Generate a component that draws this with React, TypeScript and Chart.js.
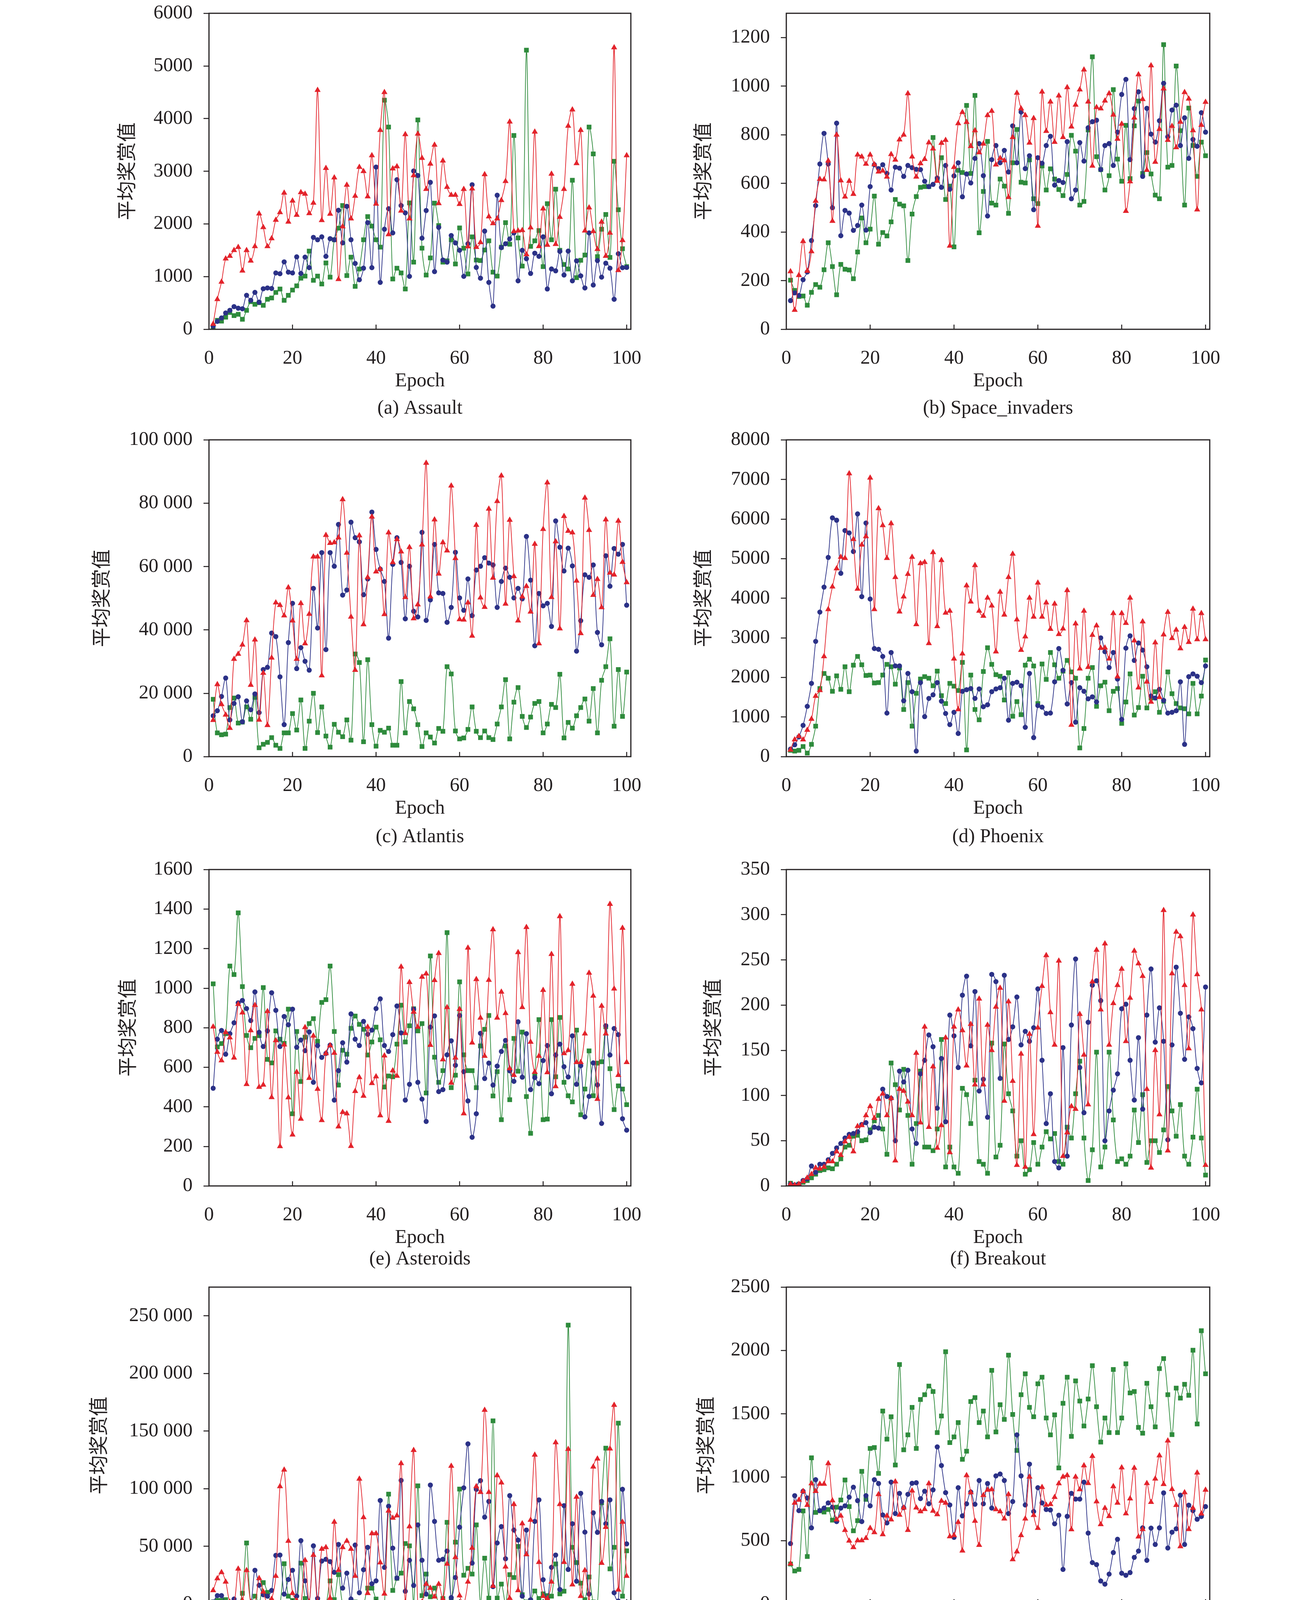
import { useEffect, useRef } from 'react'
import { Chart, registerables } from 'chart.js'

Chart.register(...registerables)

// epochs 1..100 on the x axis
const epochs = Array.from({ length: 100 }, (_, i) => i + 1)
const seriesNames = ['NATURE-DQN', 'EBU', 'GCO-EBU']
const yLabel = '平均奖赏值'
const xLabel = 'Epoch'
const xTicks = [0, 20, 40, 60, 80, 100]

// (a) Assault
const assaultTicks = [0, 1000, 2000, 3000, 4000, 5000, 6000]
const assaultDqn = [
  40, 170, 155, 230, 320, 260, 285, 190, 360, 525,
  475, 505, 455, 570, 595, 700, 765, 550, 645, 745,
  825, 970, 1010, 1485, 930, 1010, 860, 1260, 990, 1700,
  1920, 2350, 1020, 1370, 815, 1145, 1700, 2140, 1960, 1700,
  1560, 4350, 3840, 955, 1160, 1070, 765, 2400, 1275, 3975,
  1540, 1030, 1355, 2395, 1970, 1275, 1300, 1700, 1240, 1925,
  1540, 1050, 1755, 1315, 1305, 1505, 1680, 1085, 1010, 1560,
  2025, 1615, 3680, 1735, 1200, 5300, 1575, 1680, 1875, 1190,
  2385, 1700, 2660, 1500, 1230, 1145, 2830, 980, 1310, 1410,
  3840, 3330, 1380, 1900, 2180, 1365, 3190, 2270, 1530, 1190,
]
const assaultEbu = [
  60, 150, 215, 310, 360, 430, 400, 390, 645, 550,
  700, 515, 770, 785, 775, 1070, 1055, 1280, 1085, 1070,
  1375, 1060, 1370, 1170, 1745, 1700, 1755, 1385, 1720, 1700,
  2260, 1640, 2335, 1700, 1250, 940, 1160, 2025, 1170, 3080,
  890, 1900, 2290, 1830, 2840, 2350, 2210, 1005, 3005, 2920,
  1730, 2255, 2790, 1095, 1935, 1315, 1275, 1780, 1640, 1500,
  1005, 1625, 2745, 1175, 970, 1865, 890, 440, 2545, 1550,
  1625, 1715, 1830, 920, 1500, 1340, 1060, 1445, 1385, 1755,
  765, 1145, 1110, 1480, 1030, 1485, 920, 1300, 1015, 785,
  1830, 840, 1305, 990, 1255, 1160, 570, 1435, 1170, 1175,
]
const assaultGco = [
  100, 570, 900, 1340, 1390, 1500, 1560, 1110, 1500, 1300,
  1575, 2195, 1935, 1575, 1725, 2075, 2220, 2590, 2040, 2440,
  2170, 2600, 2570, 2200, 2400, 4540, 2070, 3060, 2190, 2880,
  950, 1950, 2740, 2100, 2530, 3080, 3000, 2520, 3300, 2380,
  3780, 4500, 1800, 3050, 3090, 2250, 3700, 2100, 2920, 3710,
  3250, 2660, 3140, 3500, 2390, 3200, 2700, 2550, 2550, 2375,
  2660, 1570, 2670, 1560, 1650, 2940, 2140, 2010, 2100, 2450,
  2810, 3940, 1860, 1870, 1880, 1420, 1930, 3750, 1575, 2290,
  1600, 2950, 1615, 2130, 2660, 3860, 4170, 3150, 3780, 1870,
  2310, 1860, 1520, 2040, 1390, 1830, 5350, 1120, 1690, 3300,
]

// (b) Space_invaders
const spaceTicks = [0, 200, 400, 600, 800, 1000, 1200]
const spaceDqn = [
  202, 160, 135, 137, 99, 152, 184, 173, 245, 356,
  258, 142, 267, 247, 244, 208, 318, 458, 356, 412,
  548, 350, 398, 384, 442, 534, 515, 508, 283, 474,
  546, 584, 587, 587, 789, 619, 706, 534, 589, 339,
  654, 645, 921, 641, 962, 397, 567, 773, 519, 511,
  618, 589, 477, 685, 822, 605, 602, 697, 537, 517,
  672, 573, 660, 618, 575, 550, 637, 798, 733, 511,
  526, 820, 1121, 710, 657, 573, 632, 986, 700, 609,
  839, 620, 837, 939, 641, 727, 639, 552, 537, 1171,
  667, 674, 1083, 817, 511, 910, 756, 629, 770, 714,
]
const spaceEbu = [
  118, 150, 139, 204, 236, 365, 509, 680, 806, 680,
  500, 848, 385, 489, 478, 407, 427, 511, 408, 587,
  677, 661, 677, 641, 573, 667, 663, 629, 674, 665,
  658, 657, 609, 587, 596, 622, 584, 674, 576, 631,
  685, 545, 639, 602, 703, 764, 632, 466, 698, 756,
  685, 736, 647, 837, 685, 894, 661, 714, 492, 706,
  683, 756, 794, 593, 612, 604, 772, 537, 573, 768,
  692, 829, 854, 860, 657, 756, 764, 674, 811, 966,
  1028, 698, 908, 977, 629, 909, 803, 770, 858, 1012,
  792, 902, 922, 756, 870, 703, 781, 753, 891, 811,
]
const spaceGco = [
  238, 79, 222, 362, 240, 320, 528, 618, 616, 693,
  445, 800, 612, 545, 610, 556, 718, 710, 680, 718,
  678, 648, 652, 627, 720, 697, 780, 800, 970, 710,
  627, 682, 700, 768, 743, 610, 766, 778, 343, 667,
  847, 893, 852, 753, 818, 727, 763, 880, 898, 677,
  704, 694, 543, 790, 972, 908, 880, 767, 868, 425,
  977, 815, 936, 770, 961, 790, 995, 833, 923, 986,
  1068, 936, 672, 913, 908, 940, 970, 882, 783, 845,
  486, 608, 870, 1048, 946, 655, 1085, 688, 823, 990,
  778, 836, 748, 853, 975, 948, 818, 492, 840, 935,
]

// (c) Atlantis
const atlantisTicks = [0, 20000, 40000, 60000, 80000, 100000]
const atlantisDqn = [
  18100, 7500, 6900, 7100, 15500, 18500, 10600, 10900, 15700, 11800,
  18700, 2800, 3900, 4500, 6000, 3600, 2600, 7500, 7500, 13600,
  8400, 17900, 2600, 11200, 20000, 7600, 15700, 6500, 3000, 10200,
  7700, 6300, 11600, 5200, 32400, 29700, 4700, 30600, 10100, 3300,
  8300, 7700, 9000, 3600, 3600, 23700, 7500, 17400, 15100, 10100,
  3200, 7500, 6200, 4300, 8900, 8000, 28400, 26100, 8100, 5600,
  5900, 8600, 15700, 8000, 6000, 8100, 6000, 5400, 10300, 15700,
  24300, 5600, 17200, 21800, 12700, 9200, 12500, 16800, 17400, 7500,
  10300, 16500, 15500, 26000, 5900, 10800, 9000, 12900, 15500, 18200,
  11200, 21500, 7500, 24100, 28400, 37200, 9600, 27500, 12700, 26700,
]
const atlantisEbu = [
  12900, 14500, 19000, 24800, 11600, 16800, 18900, 11000, 17600, 14800,
  19800, 13900, 27500, 28200, 39000, 37900, 25200, 10100, 36000, 48400,
  27800, 34400, 30100, 27300, 53100, 40600, 64400, 33800, 64400, 60100,
  73300, 51000, 52600, 74000, 69100, 67800, 51100, 56100, 77200, 65400,
  59200, 55300, 37400, 60700, 69100, 61300, 43500, 60100, 45900, 44100,
  70800, 43000, 49500, 67000, 51700, 51500, 42400, 47100, 64500, 50100,
  46200, 56100, 44500, 58900, 60100, 62800, 61100, 60500, 47100, 55300,
  59500, 56600, 50100, 53100, 49800, 69500, 55700, 35000, 51500, 47600,
  48400, 41100, 74400, 66100, 58600, 65800, 60200, 33300, 42900, 57400,
  56600, 60500, 39200, 35300, 63400, 53800, 65700, 63900, 67000, 47800,
]
const atlantisGco = [
  11500, 22800, 16500, 13200, 9000, 30800, 32400, 35300, 43000, 22600,
  36900, 11600, 26400, 9900, 31200, 48600, 47800, 44500, 53400, 42900,
  30800, 48400, 35700, 45000, 63100, 63100, 25600, 69900, 67400, 67600,
  69100, 81200, 64300, 44100, 27300, 69800, 41700, 56600, 75700, 58400,
  59200, 44900, 70700, 61300, 68600, 64700, 50300, 66100, 43600, 48000,
  66900, 92700, 50500, 74800, 57700, 67600, 65000, 85500, 62600, 43300,
  43200, 48600, 38100, 73100, 50200, 47200, 78200, 56400, 80600, 88700,
  48200, 74700, 56900, 42900, 50500, 53800, 45700, 67100, 35700, 71800,
  86500, 50300, 67900, 40400, 75900, 71200, 70700, 55500, 38900, 81700,
  71500, 51000, 56000, 47100, 74800, 58000, 57400, 74400, 61400, 55000,
]

// (d) Phoenix
const phoenixTicks = [0, 1000, 2000, 3000, 4000, 5000, 6000, 7000, 8000]
const phoenixDqn = [
  160, 140, 160, 255, 90, 310, 770, 1720, 2100, 1980,
  1650, 2040, 1700, 2270, 1640, 2310, 2530, 2320, 2050, 2060,
  1860, 1870, 2060, 2330, 2270, 1830, 2240, 1190, 1870, 770,
  1600, 1960, 2020, 1980, 1790, 2160, 1540, 1340, 1850, 1780,
  1670, 2380, 170, 2060, 1190, 930, 2150, 2750, 2330, 2070,
  2030, 1430, 2120, 1020, 1390, 1060, 2310, 2460, 2290, 1340,
  2340, 1950, 2630, 2320, 1980, 2160, 2430, 2140, 1980, 220,
  710, 1980, 2250, 1270, 1790, 1880, 1160, 1650, 1720, 840,
  1380, 2090, 1050, 1240, 2030, 1230, 1480, 1640, 1120, 1400,
  2140, 1590, 1340, 1230, 1210, 1080, 1850, 1080, 1530, 2440,
]
const phoenixEbu = [
  190, 300, 500, 790, 1270, 1850, 2910, 3650, 4280, 5030,
  6030, 5970, 4630, 5710, 5650, 5180, 6130, 4040, 5900, 3980,
  2730, 2710, 2530, 1100, 2630, 2290, 2290, 1410, 2100, 1640,
  140, 1870, 1010, 1470, 1560, 1870, 1400, 1090, 810, 1120,
  585, 1650, 1690, 1720, 1470, 1710, 1260, 1310, 1640, 1710,
  1740, 1980, 920, 1850, 1880, 1790, 740, 2100, 480, 1290,
  1250, 1090, 1100, 1890, 2730, 2180, 1330, 1870, 870, 1740,
  1650, 1460, 1510, 1380, 3000, 2650, 2250, 2630, 1960, 940,
  2740, 3050, 2430, 2870, 2690, 2270, 1530, 1480, 1700, 1420,
  1100, 1120, 1160, 1890, 310, 2020, 2090, 2030, 1870, 2290,
]
const phoenixGco = [
  170, 430, 515, 430, 670, 950, 1530, 1675, 2530, 3720,
  4290, 4750, 5040, 5010, 7150, 5490, 4235, 5350, 5560, 7040,
  3720, 6270, 5840, 5010, 5890, 4530, 3660, 4040, 4610, 5040,
  3340, 4880, 4910, 2860, 5160, 3290, 4960, 3630, 3680, 2470,
  1190, 2600, 4320, 3910, 4830, 3680, 3550, 4010, 3810, 2650,
  4160, 3580, 4530, 5120, 3460, 2690, 3030, 4010, 3530, 4390,
  3530, 3890, 3220, 3860, 3090, 3230, 4200, 800, 3360, 2220,
  3680, 2260, 3070, 3310, 2740, 2750, 2470, 3620, 2020, 3620,
  3370, 4010, 2930, 1740, 3410, 1890, 1380, 2880, 1500, 3080,
  3650, 2990, 3200, 2730, 3270, 2890, 3730, 2960, 3620, 2960,
]

// (e) Asteroids
const asteroidsTicks = [0, 200, 400, 600, 800, 1000, 1200, 1400, 1600]
const asteroidsDqn = [
  1022, 703, 720, 770, 1112, 1069, 1381, 1008, 761, 699,
  746, 760, 1003, 640, 622, 784, 742, 721, 894, 365,
  781, 528, 752, 821, 846, 731, 928, 942, 1112, 781,
  510, 686, 666, 797, 859, 817, 792, 662, 728, 803,
  739, 500, 556, 552, 717, 914, 728, 810, 896, 784,
  821, 470, 1163, 651, 524, 583, 1281, 497, 560, 1032,
  663, 583, 583, 497, 708, 792, 862, 455, 578, 335,
  708, 436, 746, 580, 778, 452, 266, 560, 841, 335,
  338, 841, 552, 852, 524, 456, 425, 788, 360, 490,
  683, 456, 621, 628, 805, 593, 386, 506, 490, 411,
]
const asteroidsEbu = [
  494, 742, 786, 666, 770, 825, 926, 938, 897, 836,
  981, 777, 705, 784, 977, 888, 705, 857, 815, 894,
  701, 738, 684, 779, 524, 710, 650, 670, 712, 434,
  583, 724, 626, 870, 742, 710, 832, 767, 788, 897,
  946, 710, 680, 765, 910, 774, 434, 514, 894, 524,
  439, 326, 803, 860, 477, 487, 663, 734, 610, 862,
  578, 430, 246, 365, 772, 543, 621, 510, 606, 680,
  736, 582, 529, 830, 550, 770, 487, 548, 517, 634,
  710, 466, 662, 717, 603, 551, 759, 514, 608, 349,
  453, 622, 511, 316, 810, 662, 796, 765, 340, 282,
]
const asteroidsGco = [
  805, 677, 634, 777, 750, 648, 919, 876, 514, 786,
  914, 500, 511, 883, 448, 736, 200, 714, 447, 259,
  576, 339, 802, 545, 759, 490, 332, 670, 710, 672,
  300, 373, 366, 201, 479, 549, 455, 804, 519, 553,
  356, 659, 328, 583, 556, 1108, 772, 1030, 880, 804,
  1057, 1073, 712, 1040, 1177, 639, 903, 521, 648, 894,
  366, 1204, 724, 1045, 850, 657, 1041, 1297, 850, 981,
  873, 594, 560, 1181, 903, 1308, 728, 576, 657, 990,
  574, 1172, 503, 1363, 670, 686, 1021, 625, 625, 770,
  1077, 961, 439, 910, 770, 1425, 997, 560, 1304, 625,
]

// (f) Breakout
const breakoutTicks = [0, 50, 100, 150, 200, 250, 300, 350]
const breakoutDqn = [
  3, 1, 2, 4, 6, 9, 13, 17, 18, 20,
  19, 24, 30, 43, 45, 55, 56, 50, 51, 62,
  72, 78, 63, 35, 136, 112, 84, 129, 78, 24,
  69, 127, 43, 43, 39, 63, 162, 21, 43, 21,
  14, 108, 101, 69, 117, 27, 24, 14, 158, 32,
  45, 157, 102, 83, 33, 50, 13, 18, 48, 24,
  43, 60, 52, 58, 27, 24, 65, 53, 102, 138,
  53, 6, 40, 148, 21, 43, 148, 73, 27, 30,
  24, 33, 84, 48, 101, 26, 50, 50, 37, 62,
  110, 83, 55, 90, 33, 24, 54, 107, 53, 12,
]
const breakoutEbu = [
  2, 1, 2, 6, 8, 22, 15, 24, 24, 29,
  36, 42, 47, 53, 57, 58, 60, 68, 70, 59,
  65, 64, 107, 99, 97, 50, 127, 115, 128, 63,
  47, 124, 139, 167, 154, 86, 141, 71, 189, 166,
  131, 211, 232, 155, 215, 105, 118, 76, 234, 226,
  119, 233, 162, 176, 209, 156, 171, 160, 175, 218,
  139, 69, 102, 27, 20, 153, 33, 178, 251, 131,
  81, 181, 222, 227, 205, 50, 83, 106, 124, 196,
  201, 139, 95, 164, 85, 189, 240, 159, 197, 160,
  51, 156, 242, 191, 140, 187, 174, 130, 114, 220,
]
const breakoutGco = [
  2, 1, 2, 5, 9, 13, 20, 19, 21, 27,
  27, 38, 34, 49, 54, 38, 66, 67, 78, 88,
  75, 96, 102, 78, 97, 28, 107, 105, 93, 78,
  147, 70, 176, 65, 132, 42, 67, 164, 37, 176,
  195, 172, 133, 179, 112, 207, 112, 178, 150, 198,
  219, 94, 204, 116, 23, 146, 21, 168, 57, 175,
  221, 255, 192, 156, 249, 33, 59, 88, 85, 190,
  145, 90, 226, 261, 195, 268, 156, 202, 222, 240,
  160, 208, 260, 246, 232, 107, 20, 150, 79, 305,
  39, 235, 281, 276, 222, 152, 300, 234, 195, 23,
]

// (g) Video_pinball
const pinballTicks = [0, 50000, 100000, 150000, 200000, 250000]
const pinballDqn = [
  1700, 3000, 3000, 3700, 0, 0, 0, 9200, 52900, 0,
  6700, 0, 18500, 10000, 0, 0, 0, 34900, 6700, 3000,
  0, 35400, 4700, 0, 0, 0, 0, 0, 20000, 3700,
  25400, 0, 0, 1700, 1700, 0, 0, 13700, 13700, 4200,
  0, 0, 95300, 11700, 22200, 26700, 52400, 50400, 0, 102500,
  7200, 25900, 6200, 13700, 0, 4700, 70800, 4200, 53600, 99700,
  24900, 30900, 25900, 68600, 0, 39700, 5000, 158900, 5000, 17200,
  0, 25400, 22900, 49900, 8000, 1700, 3000, 11200, 4700, 8700,
  7200, 6700, 34700, 8700, 11000, 242000, 49100, 35900, 18000, 3700,
  23400, 1700, 0, 87800, 135200, 30400, 49100, 156900, 6700, 46100,
]
const pinballEbu = [
  1700, 7200, 7200, 1000, 0, 4200, 0, 0, 0, 0,
  29200, 16200, 8000, 6700, 11700, 42100, 42400, 8500, 21200, 29200,
  6700, 54900, 20000, 1200, 50400, 4700, 37200, 38700, 36700, 27400,
  51600, 13700, 26700, 4200, 51100, 9700, 29700, 49100, 17500, 20000,
  89800, 31700, 84800, 48400, 22400, 107200, 11000, 37900, 16000, 68600,
  37900, 8500, 103200, 71600, 37900, 38700, 45900, 5500, 22900, 66600,
  100700, 138900, 35400, 99500, 107000, 75300, 89000, 15000, 52900, 67100,
  39200, 94000, 64100, 55400, 6700, 64100, 3500, 71600, 90300, 21000,
  4200, 31700, 42400, 12500, 85300, 29900, 69600, 19700, 96000, 62300,
  8500, 79100, 62100, 89000, 69600, 90300, 9700, 2500, 99500, 52100,
]
const pinballGco = [
  11700, 22000, 27400, 19200, 1700, 500, 30400, 3000, 29200, 1700,
  500, 22200, 10500, 500, 4200, 24200, 102000, 116400, 54600, 9200,
  3000, 500, 37900, 1700, 42400, 1700, 47600, 49100, 5000, 71100,
  29200, 49100, 54600, 47600, 24200, 108500, 75100, 9200, 61100, 61100,
  35900, 8700, 80800, 74600, 76600, 122000, 1700, 67100, 133400, 500,
  1700, 17200, 13700, 6200, 17200, 4200, 34700, 119700, 40400, 7200,
  500, 19200, 48600, 102000, 97000, 168300, 97000, 15500, 111500, 105200,
  32200, 5000, 86500, 11700, 69800, 42900, 72800, 129400, 36200, 6700,
  4700, 19200, 140100, 86500, 36200, 134400, 16700, 92800, 6700, 29200,
  1700, 119000, 126000, 35400, 66600, 134700, 172600, 12200, 71100, 24200,
]

// (h) Ms_pacman
const pacmanTicks = [0, 500, 1000, 1500, 2000, 2500]
const pacmanDqn = [
  315, 260, 272, 734, 374, 1153, 722, 735, 725, 745,
  661, 763, 820, 978, 768, 577, 657, 1046, 825, 1227,
  1234, 1030, 1522, 1300, 1477, 1096, 1889, 1216, 1334, 1551,
  1227, 1613, 1651, 1719, 1676, 1352, 1483, 1990, 1273, 1318,
  1431, 1141, 1205, 1597, 1628, 1431, 1522, 1318, 1843, 1357,
  1572, 1456, 1963, 1495, 1211, 1651, 1816, 1551, 1477, 1737,
  1789, 1467, 1334, 1492, 1073, 1583, 1789, 1322, 1760, 1601,
  1404, 1617, 1880, 1556, 1277, 1467, 1352, 1850, 1352, 1467,
  1895, 1665, 1676, 1393, 1347, 1741, 1556, 1397, 1857, 1936,
  1651, 1336, 1703, 1624, 1733, 1646, 2002, 1420, 2156, 1816,
]
const pacmanEbu = [
  476, 854, 736, 889, 836, 600, 980, 736, 756, 797,
  763, 650, 756, 774, 842, 921, 815, 650, 854, 774,
  980, 950, 702, 639, 961, 713, 872, 759, 865, 952,
  956, 831, 889, 790, 900, 1239, 1092, 878, 781, 525,
  917, 695, 790, 883, 786, 974, 790, 950, 756, 1010,
  1025, 974, 713, 808, 1334, 1010, 781, 1103, 729, 917,
  797, 745, 741, 632, 700, 272, 691, 872, 827, 827,
  961, 559, 326, 310, 181, 156, 235, 405, 510, 242,
  226, 247, 367, 417, 600, 344, 598, 469, 600, 876,
  441, 566, 593, 858, 469, 779, 736, 668, 690, 768,
]
const pacmanGco = [
  317, 797, 820, 889, 779, 950, 889, 946, 946, 1109,
  815, 665, 695, 582, 498, 446, 500, 500, 519, 598,
  564, 865, 548, 695, 665, 965, 702, 759, 582, 893,
  759, 729, 747, 950, 734, 706, 812, 797, 532, 541,
  645, 419, 1014, 879, 654, 464, 858, 899, 903, 745,
  729, 672, 865, 351, 412, 541, 672, 1003, 700, 598,
  921, 781, 786, 842, 950, 1003, 1014, 587, 1003, 903,
  1092, 952, 1166, 808, 627, 756, 691, 927, 797, 1076,
  713, 831, 1073, 530, 589, 952, 803, 987, 1171, 944,
  1288, 905, 779, 453, 879, 589, 756, 1035, 711, 899,
]

const TEXT = '#231f20'
const GREEN = '#2e8b3c'
const NAVY = '#2b3187'
const RED = '#e3232b'
const SERIF = '"Liberation Serif", "Times New Roman", serif'
const CJK = '"Noto Sans CJK SC", sans-serif'

// page layout (px in the 3346 x 4418 page)
const COLS = [
  { left: 535, right: 1615 },
  { left: 2013, right: 3097 },
]
const ROWS = [
  { top: 34, bottom: 843, caption: 203 },
  { top: 1126, bottom: 1937, caption: 206 },
  { top: 2226, bottom: 3036, caption: 188 },
  { top: 3295, bottom: 4106, caption: 208 },
]
const AXIS_W = 340
const PAD_R = 40
const PAD_T = 40
const PAD_B = 10
const X_AXIS_H = 163
const CAP_LH = 50

type PanelCfg = {
  caption: string
  yMax: number
  yTicks: number[]
  dqn: number[]
  ebu: number[]
  gco: number[]
  col: number
  row: number
  titleGap: number
}

const panels: PanelCfg[] = [
  { caption: '(a) Assault', yMax: 6000, yTicks: assaultTicks, dqn: assaultDqn, ebu: assaultEbu, gco: assaultGco, col: 0, row: 0, titleGap: 212 },
  { caption: '(b) Space_invaders', yMax: 1300, yTicks: spaceTicks, dqn: spaceDqn, ebu: spaceEbu, gco: spaceGco, col: 1, row: 0, titleGap: 215 },
  { caption: '(c) Atlantis', yMax: 100000, yTicks: atlantisTicks, dqn: atlantisDqn, ebu: atlantisEbu, gco: atlantisGco, col: 0, row: 1, titleGap: 277 },
  { caption: '(d) Phoenix', yMax: 8000, yTicks: phoenixTicks, dqn: phoenixDqn, ebu: phoenixEbu, gco: phoenixGco, col: 1, row: 1, titleGap: 215 },
  { caption: '(e) Asteroids', yMax: 1600, yTicks: asteroidsTicks, dqn: asteroidsDqn, ebu: asteroidsEbu, gco: asteroidsGco, col: 0, row: 2, titleGap: 210 },
  { caption: '(f) Breakout', yMax: 350, yTicks: breakoutTicks, dqn: breakoutDqn, ebu: breakoutEbu, gco: breakoutGco, col: 1, row: 2, titleGap: 190 },
  { caption: '(g) Video_pinball', yMax: 275000, yTicks: pinballTicks, dqn: pinballDqn, ebu: pinballEbu, gco: pinballGco, col: 0, row: 3, titleGap: 284 },
  { caption: '(h) Ms_pacman', yMax: 2500, yTicks: pacmanTicks, dqn: pacmanDqn, ebu: pacmanEbu, gco: pacmanGco, col: 1, row: 3, titleGap: 208 },
]

function fmt(v: number) {
  return v >= 10000 ? String(v).replace(/\B(?=(\d{3})+(?!\d))/g, ' ') : String(v)
}

// box round the plot and the short inward ticks on the x axis
const framePlugin = {
  id: 'frame',
  afterDraw(chart: any) {
    const { ctx, chartArea: a, scales } = chart
    ctx.save()
    ctx.strokeStyle = TEXT
    ctx.lineWidth = 3
    ctx.strokeRect(a.left, a.top, a.right - a.left, a.bottom - a.top)
    ctx.lineWidth = 2.5
    for (const t of scales.x.ticks) {
      if (t.value <= 0) continue
      const px = scales.x.getPixelForValue(t.value)
      ctx.beginPath()
      ctx.moveTo(px, a.bottom)
      ctx.lineTo(px, a.bottom - 12)
      ctx.stroke()
    }
    ctx.restore()
  },
}

function Panel({ cfg }: { cfg: PanelCfg }) {
  const ref = useRef<HTMLCanvasElement | null>(null)
  const col = COLS[cfg.col]
  const row = ROWS[cfg.row]
  const left = col.left - AXIS_W
  const top = row.top - PAD_T
  const width = col.right + PAD_R - left
  const capPad = row.caption - X_AXIS_H - CAP_LH / 2
  const height = PAD_T + (row.bottom - row.top) + X_AXIS_H + capPad + CAP_LH + PAD_B

  useEffect(() => {
    const canvas = ref.current
    if (!canvas) return
    const tickFont = { family: SERIF, size: 50, lineHeight: 1.2 }
    const mk = (label: string, values: number[], color: string, pointStyle: string, radius: number) => ({
      label,
      data: values.map((v, i) => ({ x: epochs[i], y: v })),
      borderColor: color,
      backgroundColor: color,
      pointBackgroundColor: color,
      pointBorderColor: color,
      pointBorderWidth: 0,
      pointStyle,
      pointRadius: radius,
      borderWidth: 1.8,
      tension: 0.33,
    })

    const chart = new Chart(canvas, {
      type: 'line',
      data: {
        datasets: [
          mk(seriesNames[2], cfg.gco, RED, 'triangle', 9),
          mk(seriesNames[1], cfg.ebu, NAVY, 'circle', 6.5),
          mk(seriesNames[0], cfg.dqn, GREEN, 'rect', 8.5),
        ],
      },
      options: {
        responsive: false,
        animation: false,
        devicePixelRatio: 1,
        layout: { padding: { left: 0, right: PAD_R, top: PAD_T, bottom: PAD_B } },
        plugins: {
          legend: { display: false },
          tooltip: { enabled: false },
          title: {
            display: true,
            position: 'bottom',
            fullSize: false,
            text: cfg.caption,
            color: TEXT,
            font: { family: SERIF, size: 50, weight: 'normal', lineHeight: 1 },
            padding: { top: capPad, bottom: 0 },
          },
        },
        scales: {
          x: {
            type: 'linear',
            min: 0,
            max: 101,
            afterBuildTicks: (s: any) => {
              s.ticks = xTicks.map((v) => ({ value: v }))
            },
            afterFit: (s: any) => {
              s.height = X_AXIS_H
              s.paddingLeft = 0
              s.paddingRight = 0
            },
            grid: { display: false },
            border: { display: false },
            ticks: { autoSkip: false, maxRotation: 0, padding: 37, color: TEXT, font: tickFont },
            title: { display: true, text: xLabel, color: TEXT, font: tickFont, padding: 0 },
          },
          y: {
            type: 'linear',
            min: 0,
            max: cfg.yMax,
            afterBuildTicks: (s: any) => {
              s.ticks = cfg.yTicks.map((v) => ({ value: v }))
            },
            afterFit: (s: any) => {
              s.width = AXIS_W
              s.paddingTop = 0
              s.paddingBottom = 0
            },
            grid: { drawOnChartArea: false, drawTicks: true, tickLength: 14, color: TEXT, lineWidth: 2.5 },
            border: { display: false },
            ticks: {
              autoSkip: false,
              padding: 28,
              color: TEXT,
              font: tickFont,
              callback: (v: any) => fmt(Number(v)),
            },
            title: {
              display: true,
              text: yLabel,
              color: TEXT,
              font: { family: CJK, size: 50, lineHeight: 1.2 },
              padding: { top: AXIS_W - cfg.titleGap - 30, bottom: 0 },
            },
          },
        },
      },
      plugins: [framePlugin],
    } as any)

    return () => chart.destroy()
  }, [cfg])

  return (
    <canvas
      ref={ref}
      width={width}
      height={height}
      style={{ position: 'absolute', left, top, width, height }}
    />
  )
}

const legendItems = [
  { label: seriesNames[0], color: GREEN, shape: 'square', left: 1112 },
  { label: seriesNames[1], color: NAVY, shape: 'circle', left: 1614 },
  { label: seriesNames[2], color: RED, shape: 'triangle', left: 1886 },
]

function Marker({ shape, color }: { shape: string; color: string }) {
  const base: any = { position: 'absolute', left: '50%', top: '50%' }
  if (shape === 'triangle') {
    return (
      <div
        style={{
          ...base,
          width: 0,
          height: 0,
          transform: 'translate(-50%, -60%)',
          borderLeft: '8px solid transparent',
          borderRight: '8px solid transparent',
          borderBottom: `14px solid ${color}`,
        }}
      />
    )
  }
  const size = shape === 'circle' ? 11 : 13
  return (
    <div
      style={{
        ...base,
        width: size,
        height: size,
        transform: 'translate(-50%, -50%)',
        background: color,
        borderRadius: shape === 'circle' ? '50%' : 0,
      }}
    />
  )
}

function Legend() {
  return (
    <>
      {legendItems.map((it) => (
        <div
          key={it.label}
          style={{
            position: 'absolute',
            left: it.left,
            top: 4387 - 30,
            height: 60,
            display: 'flex',
            alignItems: 'center',
            fontFamily: SERIF,
            fontSize: 50,
            lineHeight: '60px',
            color: TEXT,
            whiteSpace: 'nowrap',
          }}
        >
          <div style={{ position: 'relative', width: 98, height: 20, marginRight: 22 }}>
            <div style={{ position: 'absolute', left: 0, right: 0, top: 9, height: 3, background: it.color, opacity: 0.45 }} />
            <Marker shape={it.shape} color={it.color} />
          </div>
          <span>{it.label}</span>
        </div>
      ))}
    </>
  )
}

export default function App() {
  return (
    <div
      style={{
        position: 'absolute',
        left: 0,
        top: 0,
        width: 3346,
        height: 4418,
        background: '#ffffff',
        overflow: 'hidden',
      }}
    >
      {panels.map((p) => (
        <Panel key={p.caption} cfg={p} />
      ))}
      <Legend />
    </div>
  )
}
